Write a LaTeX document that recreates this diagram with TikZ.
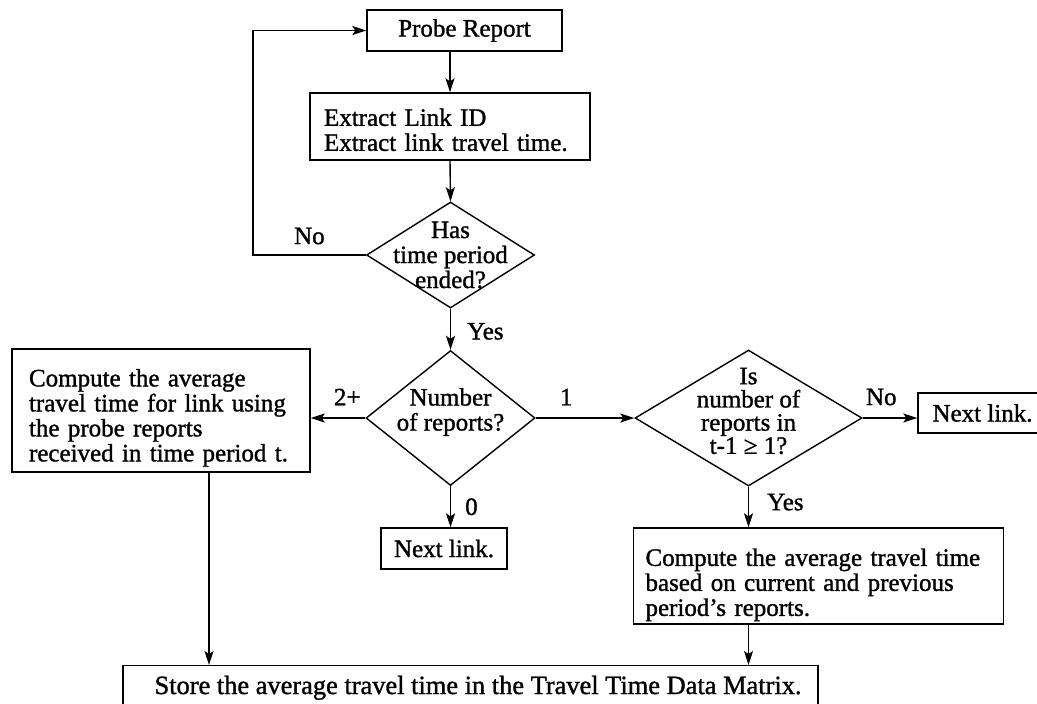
\documentclass[tikz,border=0pt]{standalone}
\usepackage{fontspec}
\setmainfont{Liberation Serif}[FakeBold=1.2]
\usetikzlibrary{arrows.meta,shapes.geometric}

\begin{document}
\begin{tikzpicture}[x=0.5pt,y=-0.5pt,
  line width=0.7pt,
  every node/.style={font=\fontsize{12.5}{12.5}\selectfont},
  box/.style={draw, line width=0.7pt, inner sep=0pt},
  lbox/.style={box, align=left},
  dia/.style={draw, diamond, line width=0.7pt, inner sep=0pt},
  arr/.style={-{Stealth[length=7pt,width=4.5pt,inset=1.5pt]}},
  lab/.style={inner sep=0pt}
]
\useasboundingbox (0,0) rectangle (1037,703);
\clip (0,0) rectangle (1037,703);

% process boxes
\node[box, minimum width=97.5pt, minimum height=20.5pt] (probe) at (464.5,30.5) {Probe Report};
\node[lbox, minimum width=140pt, minimum height=33.5pt, text width=126pt, text height=12pt] (ext) at (450,126.5)
  {Extract Link ID\\Extract link travel time.};
\node[lbox, minimum width=149pt, minimum height=61.5pt, text width=132pt, text height=16pt] (avg) at (161,410.5)
  {Compute the average\\travel time for link using\\the probe reports\\received in time period t.};
\node[box, minimum width=63pt, minimum height=20.5pt] (next1) at (444,548.5) {Next link.};
\node[box, minimum width=64.5pt, minimum height=20pt] (next2) at (982.5,413) {Next link.};
\node[lbox, minimum width=185pt, minimum height=48pt, text width=173pt, text height=17.5pt] (avgprev) at (818.5,576)
  {Compute the average travel time\\based on current and previous\\period's reports.};
\node[box, minimum width=347.5pt, anchor=north, inner ysep=5pt, font=\fontsize{13.2}{14}\selectfont] (store) at (470.5,665)
  {\hspace*{7.5pt}Store the average travel time in the Travel Time Data Matrix.};

% decisions
\node[dia, minimum width=84pt, minimum height=53pt,
  label={[align=center,lab]center:Has\\time period\\ended?}] (d1) at (450.5,255) {};
\node[dia, minimum width=84.5pt, minimum height=67.5pt,
  label={[align=center,lab,yshift=3pt]center:Number\\of reports?}] (d2) at (450.5,418) {};
\node[dia, minimum width=113.5pt, minimum height=68pt,
  label={[align=center,lab,yshift=3.5pt,font=\fontsize{12.5}{11.6}\selectfont]center:Is\\number of\\reports in\\t-1 ≥ 1?}] (d3) at (748.5,418) {};

% helper columns
\coordinate (loop) at (253,30.5);
\coordinate (colL) at (209,0);
\coordinate (colR) at (748.5,0);

% connectors
\draw[arr] (probe.south -| ext.north) -- (ext.north);
\draw[arr] (ext.south) -- (d1.north);
\draw[arr] (d1.west) -| node[lab, pos=0.25, above=5pt] {No} (loop) -- (probe.west);
\draw[arr] (d1.south) -- node[lab, pos=0.55, right=8pt] {Yes} (d2.north);
\draw[arr] (d2.west) -- node[lab, pos=0.33, above=6pt] {2+} (d2.west -| avg.east);
\draw[arr] (d2.east) -- node[lab, pos=0.31, above=6pt] {1} (d3.west);
\draw[arr] (d2.south) -- node[lab, pos=0.5, right=7pt] {0} (d2.south |- next1.north);
\draw[arr] (d3.east) -- node[lab, pos=0.34, above=6pt] {No} (d3.east -| next2.west);
\draw[arr] (d3.south) -- node[lab, pos=0.38, right=9pt] {Yes} (d3.south |- avgprev.north);
\draw[arr] (avg.south -| colL) -- (store.north -| colL);
\draw[arr] (avgprev.south -| colR) -- (store.north -| colR);
\end{tikzpicture}
\end{document}
